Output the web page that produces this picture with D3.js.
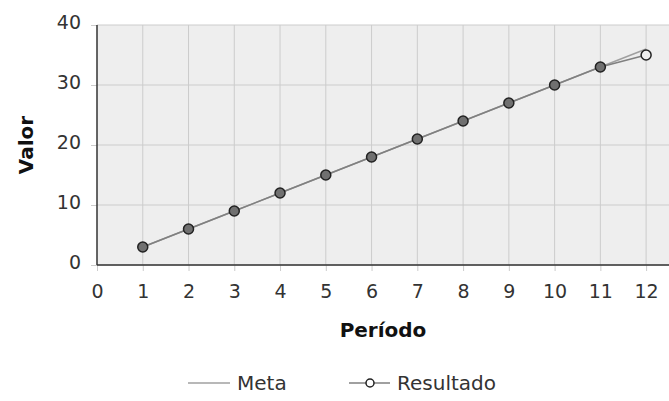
<!DOCTYPE html>
<html><head><meta charset="utf-8">
<script src="https://cdn.jsdelivr.net/npm/d3@7"></script>
<style>body{margin:0;background:#fff}svg{display:block}</style>
</head><body>
<svg id="c" width="669" height="401"></svg>
<script>
const periods = [1,2,3,4,5,6,7,8,9,10,11,12];
const meta = [3,6,9,12,15,18,21,24,27,30,33,36];
const resultado = [3,6,9,12,15,18,21,24,27,30,33,35];
const xTicks = [0,1,2,3,4,5,6,7,8,9,10,11,12];
const yTicks = [0,10,20,30,40];

const svg = d3.select("#c");
const L = 97, R = 669, T = 25, B = 265;
const x = d3.scaleLinear().domain([0,12.5]).range([L,R]);
const y = d3.scaleLinear().domain([0,40]).range([B,T]);
const font = "'DejaVu Sans', sans-serif";

svg.append("rect").attr("x",L).attr("y",T).attr("width",R-L).attr("height",B-T).attr("fill","#eeeeee");

// grid
svg.append("g").selectAll("line").data(xTicks.slice(1)).join("line")
  .attr("x1",d=>x(d)).attr("x2",d=>x(d)).attr("y1",T).attr("y2",B)
  .attr("stroke","#cccccc").attr("stroke-width",1);
svg.append("g").selectAll("line").data(yTicks).join("line")
  .attr("x1",L).attr("x2",R).attr("y1",d=>y(d)).attr("y2",d=>y(d))
  .attr("stroke","#cccccc").attr("stroke-width",1);

// axes
const xAxis = d3.axisBottom(x).tickValues(xTicks).tickSize(6).tickFormat(d3.format("d"));
const gx = svg.append("g").attr("transform",`translate(0,${B})`).call(xAxis);
gx.select(".domain").remove();
gx.selectAll(".tick line").attr("stroke","#cccccc");
gx.selectAll(".tick text").attr("font-family",font).attr("font-size",19).attr("fill","#333")
  .attr("y",33).attr("dy",0);

const yAxis = d3.axisLeft(y).tickValues(yTicks).tickSize(6).tickFormat(d3.format("d"));
const gy = svg.append("g").attr("transform",`translate(${L},0)`).call(yAxis);
gy.select(".domain").remove();
gy.selectAll(".tick line").attr("stroke","#cccccc");
gy.selectAll(".tick text").attr("font-family",font).attr("font-size",19).attr("fill","#333")
  .attr("x",-16).attr("dy","0.2em");

svg.append("line").attr("x1",L).attr("x2",L).attr("y1",T).attr("y2",B).attr("stroke","#333").attr("stroke-width",1.5);
svg.append("line").attr("x1",L).attr("x2",R).attr("y1",B).attr("y2",B).attr("stroke","#333").attr("stroke-width",1.5);

// lines
const line = d3.line().x((d,i)=>x(periods[i])).y(d=>y(d));
svg.append("path").datum(meta).attr("d",line).attr("fill","none").attr("stroke","#a0a0a0").attr("stroke-width",1.5);
svg.append("path").datum(resultado).attr("d",line).attr("fill","none").attr("stroke","#808080").attr("stroke-width",1.5);
svg.append("g").selectAll("circle").data(resultado).join("circle")
  .attr("cx",(d,i)=>x(periods[i])).attr("cy",d=>y(d)).attr("r",5)
  .attr("fill",(d,i)=>i===resultado.length-1?"#eeeeee":"#707070")
  .attr("stroke","#222").attr("stroke-width",1.5);

// titles
svg.append("text").attr("x",(L+R)/2).attr("y",337).attr("text-anchor","middle")
  .attr("font-family",font).attr("font-weight","bold").attr("font-size",20).attr("fill","#111").text("Período");
svg.append("text").attr("transform","translate(33,145) rotate(-90)").attr("text-anchor","middle")
  .attr("font-family",font).attr("font-weight","bold").attr("font-size",20).attr("fill","#111").text("Valor");

// legend
const lg = svg.append("g").attr("font-family",font).attr("font-size",20).attr("fill","#333");
lg.append("line").attr("x1",188).attr("x2",230).attr("y1",383).attr("y2",383).attr("stroke","#a0a0a0").attr("stroke-width",1.5);
lg.append("text").attr("x",237).attr("y",390).text("Meta");
lg.append("line").attr("x1",349).attr("x2",390).attr("y1",383).attr("y2",383).attr("stroke","#808080").attr("stroke-width",1.5);
lg.append("circle").attr("cx",370).attr("cy",383).attr("r",4).attr("fill","#fff").attr("stroke","#222").attr("stroke-width",1.5);
lg.append("text").attr("x",397).attr("y",390).text("Resultado");
</script>
</body></html>
